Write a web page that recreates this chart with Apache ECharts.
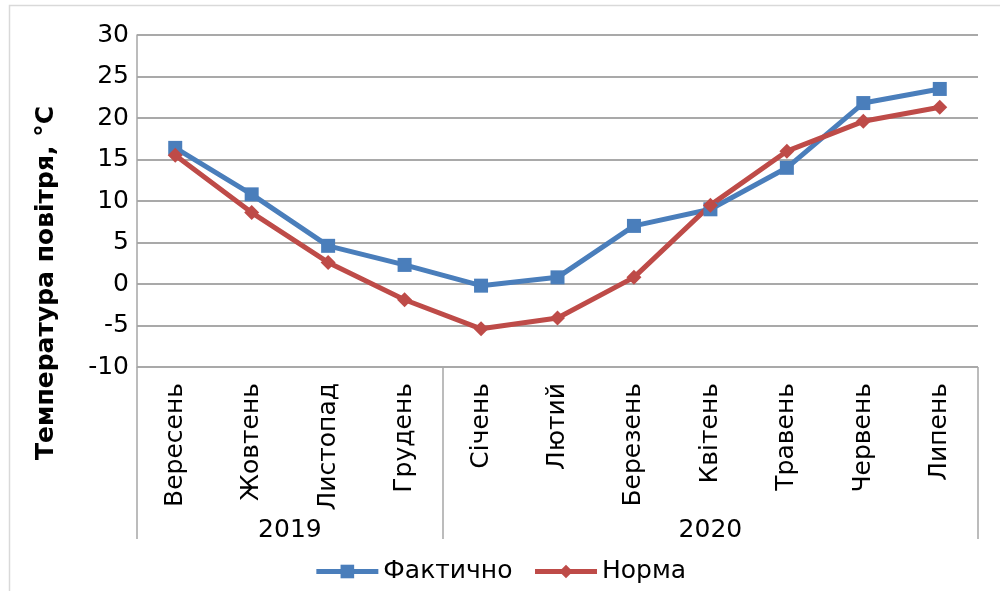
<!DOCTYPE html>
<html>
<head>
<meta charset="utf-8">
<script src="https://cdn.jsdelivr.net/npm/echarts@6/dist/echarts.min.js"></script>
<style>
  html, body { margin: 0; padding: 0; background: #fff; }
  #chart { width: 1000px; height: 591px; }
</style>
</head>
<body>
<div id="chart"></div>
<script>

var months = ['Вересень', 'Жовтень', 'Листопад', 'Грудень', 'Січень', 'Лютий',
              'Березень', 'Квітень', 'Травень', 'Червень', 'Липень'];
var years = ['2019', '2020'];
var yearBounds = [0, 4, 11];      // group borders, in month slots
var yearCenters = [2, 7.5];
var actual = [16.4, 10.8, 4.6, 2.3, -0.2, 0.8, 7.0, 9.0, 14.0, 21.8, 23.5];
var normal = [15.5, 8.6, 2.6, -1.9, -5.4, -4.1, 0.8, 9.5, 16.0, 19.6, 21.3];

var FONT = 'DejaVu Sans';

function drawChart() {
    var chart = echarts.init(document.getElementById('chart'));

    var option = {
        backgroundColor: '#fff',
        animation: false,
        textStyle: { fontFamily: FONT },
        graphic: [{
            type: 'rect',
            shape: { x: 9.5, y: 5.5, width: 1000, height: 600 },
            style: { fill: 'none', stroke: '#d9d9d9', lineWidth: 1.5 },
            silent: true
        }, {
            // axis title is centred on the whole axis block in the original, not the plot
            type: 'text',
            x: 46,
            y: 283,
            rotation: Math.PI / 2,
            style: {
                text: 'Температура повітря, °С',
                fontFamily: FONT,
                fontSize: 25,
                fontWeight: 'bold',
                fill: '#000',
                align: 'center',
                verticalAlign: 'middle'
            },
            silent: true
        }],
        grid: { left: 137, right: 22, top: 35, bottom: 224, containLabel: false },
        legend: {
            bottom: 2,
            left: 'center',
            itemWidth: 62,
            itemHeight: 17,
            itemGap: 20,
            lineStyle: { width: 5 },
            textStyle: { fontFamily: FONT, fontSize: 25, color: '#000' },
            data: ['Фактично', 'Норма']
        },
        xAxis: [{
            type: 'category',
            data: months,
            boundaryGap: true,
            axisLine: { show: false },
            axisTick: { show: false },
            axisLabel: {
                rotate: 90,
                interval: 0,
                margin: 16,
                fontFamily: FONT,
                fontSize: 25,
                color: '#000'
            }
        }, {
            type: 'value',
            min: 0,
            max: 11,
            position: 'bottom',
            axisLine: { show: false },
            splitLine: { show: false },
            axisTick: {
                show: true,
                customValues: yearBounds,
                length: 172,
                lineStyle: { color: '#a6a6a6', width: 1.5 }
            },
            axisLabel: {
                customValues: yearCenters,
                margin: 151,
                fontFamily: FONT,
                fontSize: 25,
                color: '#000',
                formatter: function (v) { return v < 4 ? years[0] : years[1]; }
            }
        }],
        yAxis: {
            type: 'value',
            min: -10,
            max: 30,
            interval: 5,
            axisLine: { show: true, lineStyle: { color: '#a6a6a6', width: 1.5 } },
            axisTick: { show: false },
            axisLabel: { fontFamily: FONT, fontSize: 25, color: '#000', margin: 8 },
            splitLine: { lineStyle: { color: '#8c8c8c', width: 1.5 } }
        },
        series: [{
            name: 'Фактично',
            type: 'line',
            data: actual,
            symbol: 'rect',
            symbolSize: 14,
            color: '#4a7ebb',
            lineStyle: { width: 5, color: '#4a7ebb' },
            itemStyle: { color: '#4a7ebb' }
        }, {
            name: 'Норма',
            type: 'line',
            data: normal,
            symbol: 'diamond',
            symbolSize: 15,
            color: '#be4b48',
            lineStyle: { width: 5, color: '#be4b48' },
            itemStyle: { color: '#be4b48' }
        }]
    };
    chart.setOption(option);
}

drawChart();

</script>
</body>
</html>
